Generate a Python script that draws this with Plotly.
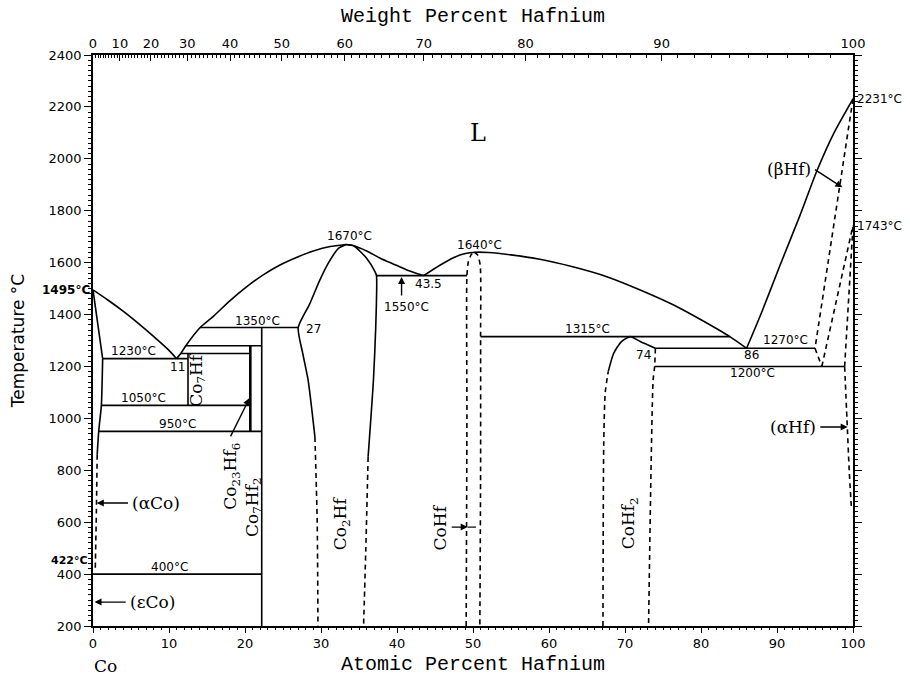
import plotly.graph_objects as go

# Atomic masses used for the weight-percent scale
M_CO = 58.933
M_HF = 178.49

# Melting / transformation temperatures (deg C)
T_MELT_CO = 1495
T_ALLO_CO = 422
T_MELT_HF = 2231
T_ALLO_HF = 1743
T_MAX_CO2HF = 1670
T_MAX_COHF = 1640

# Special compositions (at.% Hf)
X_EUT_1 = 11
X_CO2HF_1350 = 27
X_EUT_2 = 43.5
X_COHF2_R = 74
X_EUT_3 = 86

# Invariant (horizontal) reactions: temperature, left end, right end
INV_T = [1230, 1250, 1280, 1050, 950, 400, 1350, 1550, 1315, 1270, 1200]
INV_X0 = [1.27, 11.6, 12.1, 1.1, 0.75, 0, 14.1, 37.3, 51.0, 74, 73.9]
INV_X1 = [12.5, 20.7, 22.2, 20.7, 22.2, 22.2, 27, 49.2, 83.8, 95.0, 98.9]

# Line compounds: composition, top and bottom of the vertical line
CMP_X = [12.5, 20.7, 22.2]
CMP_TTOP = [1250, 1280, 1350]
CMP_TBOT = [1050, 950, 200]
CMP_W = [1.6, 2.6, 1.6]

# Liquidus branches
LIQ_A_X = [0, 2, 4, 6, 8, 10, X_EUT_1]
LIQ_A_T = [T_MELT_CO, 1455, 1412, 1365, 1315, 1262, 1230]
LIQ_B_X = [X_EUT_1, 11.6, 12.1, 14.1, 15.8, 18, 20.2, 22.4, 24.6, 27, 29.0, 31.2, 33.3]
LIQ_B_T = [1230, 1252, 1275, 1350, 1392, 1453, 1507, 1553, 1591, 1623, 1645, 1662, T_MAX_CO2HF]
LIQ_C_X = [33.3, 34.3, 36.0, 37.8, 39.5, 41.3, X_EUT_2]
LIQ_C_T = [T_MAX_CO2HF, 1665, 1645, 1617, 1595, 1572, 1550]
LIQ_D_X = [X_EUT_2, 45.7, 47.5, 49.0, 50.3, 52, 55, 58.8, 63, 67.6, 72, 76.4, 80, 83.8, X_EUT_3]
LIQ_D_T = [1550, 1591, 1620, 1635, T_MAX_COHF, 1639, 1630, 1613, 1585, 1546, 1495, 1437, 1380, 1315, 1270]
LIQ_E_X = [X_EUT_3, 88, 90.4, 93, 95.2, 97.5, 100]
LIQ_E_T = [1270, 1410, 1590, 1780, 1950, 2100, T_MELT_HF]

# Co-rich side: solidus and solvus of (aCo)
SOL_CO_X = [0, 1.27]
SOL_CO_T = [T_MELT_CO, 1230]
SLV_CO_X = [1.27, 1.1, 0.75, 0.55]
SLV_CO_T = [1230, 1050, 950, 860]
SLV_CO_DX = [0.55, 0.45, 0.3]
SLV_CO_DT = [860, 650, T_ALLO_CO]

# Co2Hf homogeneity range
CO2HF_L_X = [33.3, 32.3, 31.0, 29.8, 28.5, X_CO2HF_1350, 27.6, 28.3, 29.2]
CO2HF_L_T = [T_MAX_CO2HF, 1655, 1600, 1530, 1440, 1350, 1250, 1148, 929]
CO2HF_LD_X = [29.2, 29.5, 29.6]
CO2HF_LD_T = [929, 600, 200]
CO2HF_R_X = [33.3, 34.3, 36.0, 37.1, 37.3, 37.2, 36.9, 36.2]
CO2HF_R_T = [T_MAX_CO2HF, 1665, 1617, 1565, 1550, 1350, 1148, 852]
CO2HF_RD_X = [36.2, 35.9, 35.6]
CO2HF_RD_T = [852, 500, 200]

# CoHf homogeneity range
COHF_L_X = [49.1, 49.2, 49.2, 49.4, 49.8, 50.2]
COHF_L_T = [200, 1000, 1550, 1605, 1632, T_MAX_COHF]
COHF_R_X = [50.2, 50.6, 50.95, 51.0, 51.0, 50.9]
COHF_R_T = [T_MAX_COHF, 1630, 1590, 1315, 800, 200]

# CoHf2 homogeneity range
COHF2_TOP_X = [67.8, 68.5, 69.5, 70.7, 72.0, X_COHF2_R]
COHF2_TOP_T = [1181, 1250, 1295, 1315, 1296, 1270]
COHF2_L_X = [67.1, 67.2, 67.4, 67.8]
COHF2_L_T = [200, 900, 1100, 1181]
COHF2_R_X = [X_COHF2_R, 73.9, 73.7, 73.1]
COHF2_R_T = [1270, 1200, 1148, 200]

# Hf-rich side
SOL_HF_X = [100, 95.0]
SOL_HF_T = [T_MELT_HF, 1270]
BSLV_X = [95.0, 95.9]
BSLV_T = [1270, 1200]
BTR_X = [95.9, 100]
BTR_T = [1200, T_ALLO_HF]
ATR_X = [98.9, 100]
ATR_T = [1200, T_ALLO_HF]
ASLV_X = [98.9, 99.2, 99.5, 99.8]
ASLV_T = [1200, 1000, 800, 650]

# Weight-percent scale
WT_MAJOR = [0, 10, 20, 30, 40, 50, 60, 70, 80, 90, 100]
WT_MINOR = list(range(0, 101))


def wt_to_at(w):
    a = w / M_HF
    b = (100 - w) / M_CO
    return 100 * a / (a + b)


INK = "black"
LW = 1.6
NUM_FONT = dict(family="DejaVu Sans", size=12, color=INK)
PHASE_FONT = dict(family="DejaVu Serif", size=17, color=INK)
TITLE_FONT = dict(family="Liberation Mono", size=20, color=INK)

fig = go.Figure()


def curve(x, y, dash="solid", width=LW, smooth=True):
    fig.add_trace(go.Scatter(
        x=x, y=y, mode="lines", hoverinfo="skip", showlegend=False,
        line=dict(color=INK, width=width, dash=dash,
                  shape="spline" if smooth else "linear", smoothing=0.6),
    ))


DASH = "5px,4px"

# liquidus
for xs, ts in [(LIQ_A_X, LIQ_A_T), (LIQ_B_X, LIQ_B_T), (LIQ_C_X, LIQ_C_T),
               (LIQ_D_X, LIQ_D_T), (LIQ_E_X, LIQ_E_T)]:
    curve(xs, ts)

# Co side
curve(SOL_CO_X, SOL_CO_T, smooth=False)
curve(SLV_CO_X, SLV_CO_T)
curve(SLV_CO_DX, SLV_CO_DT, dash=DASH)

# invariant lines
for t, x0, x1 in zip(INV_T, INV_X0, INV_X1):
    curve([x0, x1], [t, t], smooth=False)

# line compounds
for x, t0, t1, w in zip(CMP_X, CMP_TTOP, CMP_TBOT, CMP_W):
    curve([x, x], [t0, t1], width=w, smooth=False)

# Co2Hf
curve(CO2HF_L_X, CO2HF_L_T)
curve(CO2HF_LD_X, CO2HF_LD_T, dash=DASH)
curve(CO2HF_R_X, CO2HF_R_T)
curve(CO2HF_RD_X, CO2HF_RD_T, dash=DASH)

# CoHf
curve(COHF_L_X, COHF_L_T, dash=DASH)
curve(COHF_R_X, COHF_R_T, dash=DASH)

# CoHf2
curve(COHF2_TOP_X, COHF2_TOP_T)
curve(COHF2_L_X, COHF2_L_T, dash=DASH)
curve(COHF2_R_X, COHF2_R_T, dash=DASH)

# Hf side
curve(SOL_HF_X, SOL_HF_T, dash=DASH, smooth=False)
curve(BSLV_X, BSLV_T, dash=DASH, smooth=False)
curve(BTR_X, BTR_T, dash=DASH, smooth=False)
curve(ATR_X, ATR_T, dash=DASH, smooth=False)
curve(ASLV_X, ASLV_T, dash=DASH)

# invisible trace carrying the top (weight percent) axis
fig.add_trace(go.Scatter(x=[0, 100], y=[200, 200], xaxis="x2", mode="lines",
                         line=dict(width=0), hoverinfo="skip", showlegend=False))

ann = []


def label(text, x, y, font=NUM_FONT, xanchor="center", angle=0, xshift=0):
    ann.append(dict(text=text, x=x, y=y, xref="x", yref="y", showarrow=False,
                    font=font, xanchor=xanchor, yanchor="middle",
                    textangle=angle, xshift=xshift))


def arrow(x, y, ax, ay):
    ann.append(dict(text="", x=x, y=y, ax=ax, ay=ay, xref="x", yref="y",
                    axref="x", ayref="y", showarrow=True, arrowhead=2,
                    arrowsize=1, arrowwidth=1.4, arrowcolor=INK, standoff=0))


def deg(t):
    return f"{t}°C"


# temperature labels
label(f"<b>{deg(T_MELT_CO)}</b>", 0, T_MELT_CO, xanchor="right", xshift=-1)
label(f"<b>{deg(T_ALLO_CO)}</b>", 0, T_ALLO_CO + 30, xanchor="right", xshift=-3,
      font=dict(family="DejaVu Sans", size=11, color=INK))
label(deg(INV_T[0]), 5.3, 1258)
label(str(X_EUT_1), 11.1, 1196)
label(deg(INV_T[3]), 6.6, 1080)
label(deg(INV_T[4]), 11.1, 980)
label(deg(INV_T[5]), 10.1, 428)
label(deg(INV_T[6]), 21.7, 1376)
label(str(X_CO2HF_1350), 27.8, 1346, xanchor="left")
label(deg(T_MAX_CO2HF), 33.8, 1703)
label(deg(T_MAX_COHF), 50.9, 1668)
label(str(X_EUT_2), 44.2, 1518)
label(deg(INV_T[7]), 41.3, 1428)
label(deg(INV_T[8]), 65.1, 1345)
label(str(X_COHF2_R), 72.4, 1244)
label(str(X_EUT_3), 86.6, 1244)
label(deg(INV_T[9]), 91.1, 1302)
label(deg(INV_T[10]), 86.8, 1175)
label(deg(T_MELT_HF), 100, T_MELT_HF, xanchor="left", xshift=2)
label(deg(T_ALLO_HF), 100, T_ALLO_HF, xanchor="left", xshift=2)

# phase labels
label("L", 50.7, 2100, font=dict(family="DejaVu Serif", size=24, color=INK))
label("(αCo)", 4.9, 674, font=PHASE_FONT, xanchor="left")
label("(εCo)", 4.6, 292, font=PHASE_FONT, xanchor="left")
label("(βHf)", 94.7, 1962, font=PHASE_FONT, xanchor="right")
label("(αHf)", 95.4, 967, font=PHASE_FONT, xanchor="right")
label("Co<sub>7</sub>Hf", 13.8, 1148, font=PHASE_FONT, angle=-90)
label("Co<sub>23</sub>Hf<sub>6</sub>", 18.3, 775, font=PHASE_FONT, angle=-90)
label("Co<sub>7</sub>Hf<sub>2</sub>", 21.1, 660, font=PHASE_FONT, angle=-90)
label("Co<sub>2</sub>Hf", 32.8, 597, font=PHASE_FONT, angle=-90)
label("CoHf", 45.7, 581, font=PHASE_FONT, angle=-90)
label("CoHf<sub>2</sub>", 70.7, 597, font=PHASE_FONT, angle=-90)

# pointers
arrow(0.5, 674, 4.8, 674)
arrow(0.2, 292, 4.5, 292)
arrow(99.3, 967, 95.5, 967)
arrow(98.6, 1890, 94.8, 1962)
arrow(40.6, 1545, 40.6, 1468)
arrow(20.6, 1078, 18.0, 925)
arrow(49.3, 581, 47.0, 581)
curve([49.3, 50.4], [581, 581], width=1.2, smooth=False)

# element names under the axis ends
ann.append(dict(text="Co", x=1.7, y=-0.07, xref="x", yref="paper", showarrow=False,
                yanchor="middle",
                font=dict(family="DejaVu Serif", size=17, color=INK)))
ann.append(dict(text="Hf", x=101.9, y=-0.07, xref="x", yref="paper", showarrow=False,
                yanchor="middle",
                font=dict(family="DejaVu Serif", size=17, color=INK)))

axis_common = dict(showgrid=False, zeroline=False, showline=True,
                   linecolor=INK, linewidth=1.5, tickcolor=INK,
                   tickfont=dict(family="DejaVu Sans", size=13, color=INK))

fig.update_layout(
    width=910, height=676,
    margin=dict(l=93, r=57, t=55, b=50, autoexpand=False),
    paper_bgcolor="white", plot_bgcolor="white",
    showlegend=False,
    annotations=ann,
    xaxis=dict(
        range=[0, 100], tickmode="array", tickvals=list(range(0, 101, 10)),
        ticks="outside", ticklen=5, tickwidth=1.3,
        minor=dict(dtick=1, ticks="outside", ticklen=2.5, tickcolor=INK),
        title=dict(text="Atomic Percent Hafnium", font=TITLE_FONT, standoff=7),
        **axis_common,
    ),
    xaxis2=dict(
        range=[0, 100], overlaying="x", side="top", anchor="y",
        tickmode="array", tickvals=[wt_to_at(w) for w in WT_MAJOR],
        ticktext=[str(w) for w in WT_MAJOR],
        ticks="inside", ticklen=6, tickwidth=1.3,
        minor=dict(tickmode="array", tickvals=[wt_to_at(w) for w in WT_MINOR],
                   ticks="inside", ticklen=3, tickcolor=INK),
        title=dict(text="Weight Percent Hafnium", font=TITLE_FONT, standoff=8),
        **axis_common,
    ),
    yaxis=dict(
        range=[200, 2400], tickmode="array", tickvals=list(range(200, 2401, 200)),
        ticks="outside", ticklen=7, tickwidth=1.3, mirror="ticks",
        minor=dict(dtick=20, ticks="outside", ticklen=3, tickcolor=INK),
        title=dict(text="Temperature °C",
                   font=dict(family="DejaVu Sans", size=17, color=INK), standoff=20),
        **axis_common,
    ),
)

fig.write_html("out.html")
